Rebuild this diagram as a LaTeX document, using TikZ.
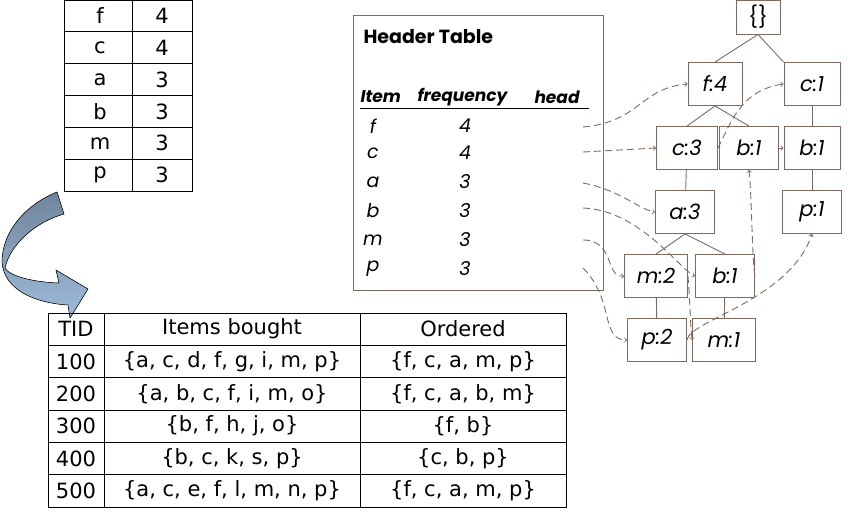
\documentclass[tikz,border=0pt]{standalone}
\usepackage{fontspec}
\setmainfont{DejaVu Sans}
\newfontfamily\geo{Poppins}
\definecolor{tcol}{HTML}{7F6A62}
\definecolor{atop}{HTML}{6F859C}
\definecolor{abot}{HTML}{9DBBD8}
\begin{document}
\begin{tikzpicture}[x=1pt,y=-1pt,
  tn/.style={draw=tcol,line width=0.9pt,fill=white,minimum width=59pt,minimum height=43pt,inner sep=0pt,font=\geo\itshape\fontsize{21}{21}\selectfont},
  edge/.style={draw=tcol,line width=0.9pt},
  link/.style={draw=tcol,dashed,dash pattern=on 7pt off 4pt,line width=0.9pt,->},
  tl/.style={draw=black,line width=0.9pt},
  tt/.style={font=\fontsize{21}{21}\selectfont},
  ht/.style={font=\geo\itshape\fontsize{19}{19}\selectfont},
  hh/.style={anchor=west,font=\geo\bfseries\itshape\fontsize{17}{17}\selectfont}]
\useasboundingbox (0,0) rectangle (848,511);
% top table
\foreach \i/\a/\b in {0/f/4,1/c/4,2/a/3,3/b/3,4/m/3,5/p/3}{
  \node[tt] (ta\i) at (100,{16+\i*31.8}) {\a};
  \node[tt] (tb\i) at (162,{16+\i*31.8}) {\b};
}
\draw[tl] (64,0) rectangle (192,191);
\draw[tl] (132,0) -- (132,191);
\foreach \k in {1,...,5}{\draw[tl] (64,{\k*31.8}) -- (192,{\k*31.8});}
% block arrow
\fill[top color=atop,bottom color=abot,draw=black,line width=0.5pt]
 (57,192) .. controls (25,205) and (2,232) .. (2,262)
 .. controls (4,290) and (35,303) .. (68,305) -- (70,318) -- (88,289) -- (56,270) -- (59,283)
 .. controls (30,282) and (8,275) .. (5,268)
 .. controls (10,245) and (35,222) .. (64,214) -- cycle;
% bottom table
\draw[tl] (48,313) rectangle (566,507);
\draw[tl] (104,313) -- (104,507);
\draw[tl] (360,313) -- (360,507);
\foreach \y in {345,377,410,442,474}{\draw[tl] (48,\y) -- (566,\y);}
\foreach \i/\t/\s/\o in {0/TID/Items bought/Ordered,
  1/100/{\{a, c, d, f, g, i, m, p\}}/{\{f, c, a, m, p\}},
  2/200/{\{a, b, c, f, i, m, o\}}/{\{f, c, a, b, m\}},
  3/300/{\{b, f, h, j, o\}}/{\{f, b\}},
  4/400/{\{b, c, k, s, p\}}/{\{c, b, p\}},
  5/500/{\{a, c, e, f, l, m, n, p\}}/{\{f, c, a, m, p\}}}{
  \node[tt] (bt\i) at (76,{329+\i*32.4}) {\t};
  \node[tt] (bs\i) at (232,{329+\i*32.4}) {\s};
  \node[tt] (bo\i) at (463,{329+\i*32.4}) {\o};
}
% header table
\draw[edge] (353,15) rectangle (603,290);
\node[anchor=west,font=\geo\bfseries\fontsize{19}{19}\selectfont] (ht) at (360,37) {Header Table};
\node[hh] (hi) at (357,97) {Item};
\node[hh] (hf) at (414,97) {frequency};
\node[hh] (hh) at (531,97) {head};
\draw[black,line width=0.9pt] (360,108) -- (589,108);
\foreach \i/\a/\b/\y in {1/f/4/126,2/c/4/153,3/a/3/182,4/b/3/211,5/m/3/240,6/p/3/269}{
  \node[ht] (hi\i) at (373,\y) {\a};
  \node[ht] (hf\i) at (465,\y) {\b};
}
\coordinate (h1) at (583,127); \coordinate (h2) at (583,152);
\coordinate (h3) at (583,183); \coordinate (h4) at (583,208);
\coordinate (h5) at (583,240); \coordinate (h6) at (583,268);
% tree
\node[tn,minimum width=44pt,minimum height=34pt,font=\geo\fontsize{21}{21}\selectfont] (root) at (758,17) {\{\}};
\node[tn,minimum width=54pt] (f4) at (715,84) {f:4};
\node[tn,minimum width=56pt] (c1) at (812,84) {c:1};
\node[tn,minimum width=61pt] (c3) at (687,148) {c:3};
\node[tn] (b1a) at (749,148) {b:1};
\node[tn,minimum width=56pt] (b1b) at (812,148) {b:1};
\node[tn] (a3) at (685,212) {a:3};
\node[tn] (p1) at (812,212) {p:1};
\node[tn,minimum width=63pt] (m2) at (656,276) {m:2};
\node[tn] (b1c) at (725,276) {b:1};
\node[tn] (p2) at (657,340) {p:2};
\node[tn,minimum width=63pt] (m1) at (724,340) {m:1};
\draw[edge] (root.south) -- (f4.north);
\draw[edge] (root.south) -- (c1.north west);
\draw[edge] (f4.south) -- (c3.north);
\draw[edge] (f4.south) -- (b1a.north);
\draw[edge] (c3) -- (a3);
\draw[edge] (a3.south) -- (m2.north);
\draw[edge] (a3.south) -- (b1c.north);
\draw[edge] (m2) -- (p2);
\draw[edge] (b1c) -- (m1);
\draw[edge] (c1) -- (b1b);
\draw[edge] (b1b) -- (p1);
% header links
\draw[link] (h1) .. controls (640,122) and (640,88) .. (f4.west);
\draw[link] (h2) -- (c3.west);
\draw[link] (h3) .. controls (620,190) and (640,210) .. (a3.west);
\draw[link] (h4) .. controls (640,210) and (680,270) .. (b1c.west);
\draw[link] (h5) .. controls (615,240) and (605,278) .. (m2.west);
\draw[link] (h6) .. controls (615,300) and (600,340) .. (p2.west);
% node links
\draw[link] (c3.east) .. controls (730,125) and (740,90) .. (c1.west);
\draw[link] (b1a) -- (b1b);
\draw[link] (b1c.east) .. controls (752,260) and (752,200) .. (b1a.south);
\draw[link] (m2.east) .. controls (690,300) and (690,320) .. (m1.west);
\draw[link] (p2.east) .. controls (690,320) and (790,300) .. (p1.south);
\end{tikzpicture}
\end{document}
